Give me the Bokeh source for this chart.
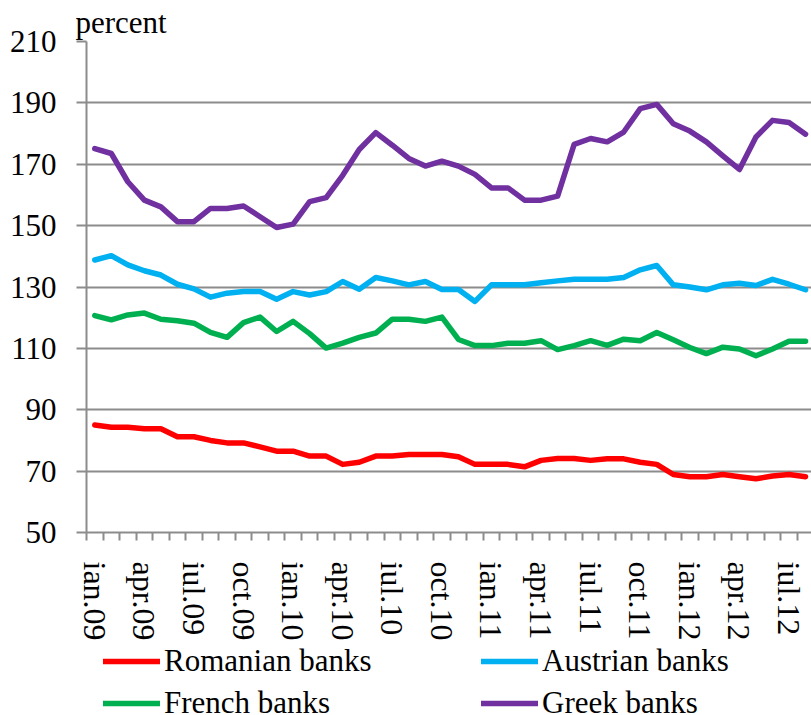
from bokeh.plotting import figure
from bokeh.layouts import column
from bokeh.models import (Range1d, FixedTicker, Legend, LegendItem, Title)
from bokeh.embed import file_html
from bokeh.resources import INLINE

# ---- data ----
month_names = ["ian", "feb", "mar", "apr", "mai", "iun",
               "iul", "aug", "sep", "oct", "noi", "dec"]
categories = [f"{month_names[m]}.{(9 + y):02d}" for y in range(4) for m in range(12)][:44]

romanian = [85.0, 84.3, 84.3, 83.8, 83.8, 81.2, 81.2, 80.0, 79.2, 79.2,
            77.9, 76.5, 76.5, 74.9, 74.9, 72.2, 72.9, 74.9, 74.9, 75.4,
            75.4, 75.4, 74.7, 72.2, 72.2, 72.2, 71.4, 73.5, 74.1, 74.1,
            73.5, 74.0, 74.0, 72.9, 72.2, 68.9, 68.2, 68.2, 68.9, 68.2,
            67.5, 68.4, 68.9, 68.2]
austrian = [138.8, 140.2, 137.2, 135.3, 133.9, 130.9, 129.4, 126.7, 128.0, 128.5,
            128.5, 126.0, 128.5, 127.4, 128.5, 131.8, 129.3, 133.1, 132.0, 130.7,
            131.8, 129.2, 129.2, 125.3, 130.7, 130.7, 130.7, 131.4, 132.0, 132.5,
            132.5, 132.5, 133.1, 135.6, 137.0, 130.7, 130.0, 129.1, 130.7, 131.2,
            130.5, 132.5, 130.9, 129.1]
french = [120.7, 119.3, 120.9, 121.5, 119.5, 119.0, 118.2, 115.2, 113.6, 118.4,
          120.2, 115.5, 118.8, 114.8, 110.1, 111.7, 113.6, 115.0, 119.5, 119.5,
          118.8, 120.2, 112.9, 110.9, 110.9, 111.7, 111.7, 112.5, 109.6, 110.9,
          112.5, 111.0, 113.0, 112.5, 115.2, 112.8, 110.3, 108.3, 110.4, 109.8,
          107.6, 109.8, 112.3, 112.3]
greek = [175.1, 173.5, 164.3, 158.3, 156.1, 151.3, 151.3, 155.6, 155.6, 156.4,
         152.9, 149.4, 150.5, 157.8, 159.1, 166.4, 174.8, 180.3, 176.2, 171.9,
         169.4, 171.0, 169.4, 166.7, 162.3, 162.3, 158.3, 158.3, 159.6, 176.5,
         178.4, 177.3, 180.5, 188.1, 189.5, 183.2, 180.8, 177.3, 172.7, 168.3,
         178.9, 184.3, 183.6, 179.8]

series = [romanian, austrian, french, greek]
series_names = ["Romanian banks", "Austrian banks", "French banks", "Greek banks"]
series_colors = ["#FF0000", "#00B0F0", "#00B050", "#7030A0"]
y_ticks = [50, 70, 90, 110, 130, 150, 170, 190, 210]

FONT = "Liberation Serif"
GRID = "#8C8C8C"
LW = 5.5

xs = list(range(len(categories)))

# ---------------- main chart ----------------
p = figure(width=811, height=643, output_backend="svg", toolbar_location=None,
           x_range=Range1d(-0.5, 43.36), y_range=Range1d(50, 210),
           min_border_left=86, min_border_right=0, min_border_top=41,
           min_border_bottom=110)
p.outline_line_color = None

for vals, col in zip(series, series_colors):
    p.line(xs, vals, line_color=col, line_width=LW,
           line_join="round", line_cap="round")

# y axis
p.yaxis.ticker = FixedTicker(ticks=y_ticks)
p.yaxis.axis_line_color = GRID
p.yaxis.axis_line_width = 2
p.yaxis.major_tick_line_color = GRID
p.yaxis.major_tick_line_width = 2
p.yaxis.major_tick_out = 10
p.yaxis.major_tick_in = 0
p.yaxis.minor_tick_line_color = None
p.yaxis.major_label_standoff = 20
p.yaxis.major_label_text_font = FONT
p.yaxis.major_label_text_font_size = "31px"
p.yaxis.major_label_text_color = "black"

p.ygrid.grid_line_color = GRID
p.ygrid.grid_line_width = 2
p.xgrid.grid_line_color = None

# x axis
label_ticks = list(range(0, len(categories), 3))
p.xaxis.ticker = FixedTicker(ticks=label_ticks,
                             minor_ticks=[i - 0.5 for i in range(len(categories) + 1)])
p.xaxis.major_label_overrides = {i: categories[i] for i in label_ticks}
p.xaxis.major_label_orientation = "vertical"
p.xaxis.axis_line_color = GRID
p.xaxis.axis_line_width = 2
p.xaxis.major_tick_out = 0
p.xaxis.major_tick_in = 0
p.xaxis.major_tick_line_color = None
p.xaxis.minor_tick_line_color = GRID
p.xaxis.minor_tick_line_width = 2
p.xaxis.minor_tick_out = 8
p.xaxis.minor_tick_in = 0
p.xaxis.major_label_standoff = 21
p.xaxis.major_label_text_font = FONT
p.xaxis.major_label_text_font_size = "32px"
p.xaxis.major_label_text_color = "black"

# unit label
p.add_layout(Title(text="percent", align="left", offset=-11, standoff=4,
                   text_font=FONT, text_font_size="31px", text_font_style="normal",
                   text_color="black"), "above")

# ---------------- legend strip ----------------
lg = figure(width=811, height=72, output_backend="svg", toolbar_location=None,
            x_range=Range1d(1000, 1001), y_range=Range1d(1000, 1001),
            min_border=0, x_axis_location=None, y_axis_location=None)
lg.outline_line_color = None
lg.grid.grid_line_color = None
lg_renderers = [lg.line(xs, vals, line_color=col, line_width=LW, line_cap="round")
                for vals, col in zip(series, series_colors)]

order = [0, 2, 1, 3]  # columns: Romanian/French, Austrian/Greek
legend = Legend(items=[LegendItem(label=series_names[i], renderers=[lg_renderers[i]]) for i in order],
                ncols=2, location=(17, -6), padding=0, margin=0, spacing=6,
                glyph_width=57, glyph_height=34, label_height=34, label_width=311,
                label_standoff=4, label_text_font=FONT, label_text_font_size="31px",
                label_text_color="black", border_line_color=None,
                background_fill_alpha=0)
lg.add_layout(legend, "center")

layout = column(p, lg, spacing=0)
open("out.html", "w").write(file_html(layout, INLINE))
